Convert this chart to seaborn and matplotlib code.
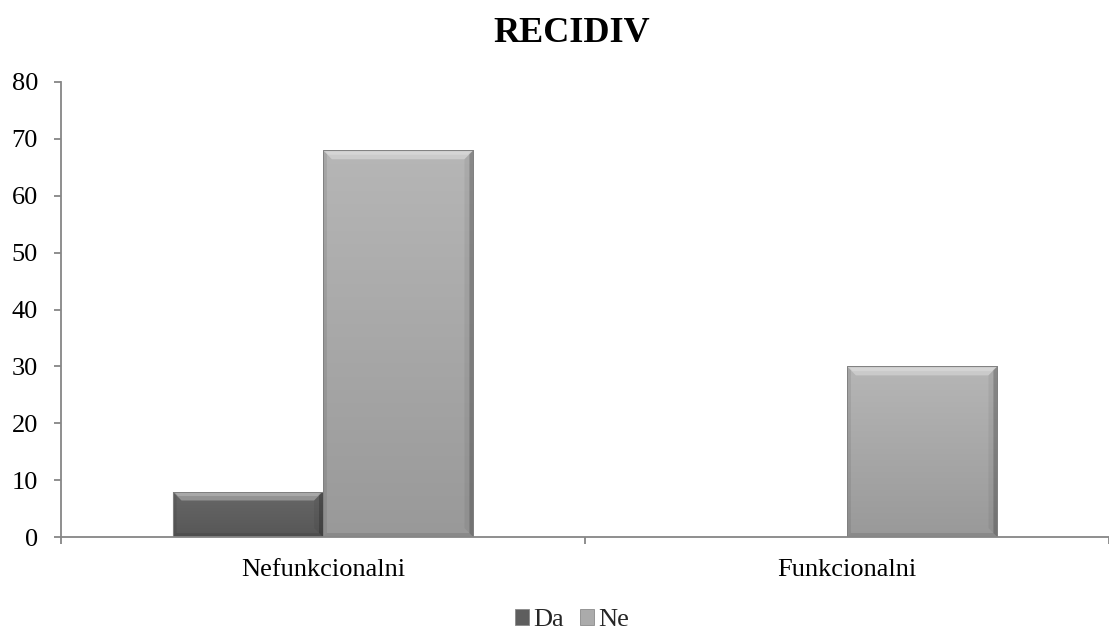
import matplotlib
matplotlib.use("Agg")
import matplotlib.pyplot as plt
import seaborn as sns
import numpy as np
import pandas as pd
from matplotlib.patches import Polygon
from matplotlib.colors import LinearSegmentedColormap

# ---- data ----
categories = ["Nefunkcionalni", "Funkcionalni"]
series_names = ["Da", "Ne"]
da_values = [8, 0]
ne_values = [68, 30]
title = "RECIDIV"
y_ticks = [0, 10, 20, 30, 40, 50, 60, 70, 80]

df = pd.DataFrame({
    "cat": categories * 2,
    "series": [series_names[0]] * 2 + [series_names[1]] * 2,
    "value": da_values + ne_values,
})

sns.set_theme(style="white")
plt.rcParams["font.family"] = ["Liberation Serif", "DejaVu Serif"]

W, H = 1109, 633
fig = plt.figure(figsize=(W / 100, H / 100), dpi=100)
ax = fig.add_axes([61 / W, (H - 537) / H, (W - 61) / W, (537 - 82) / H])

palette = {"Da": "#5e5e5e", "Ne": "#ababab"}
sns.barplot(data=df, x="cat", y="value", hue="series", order=categories,
            hue_order=series_names, palette=palette, width=0.574,
            linewidth=0, ax=ax, legend=True, zorder=3)

xlim = (-0.5, 0.5 + (W - 589) / 528)
ylim = (0, 80)

grad_colors = {"Da": ("#676767", "#575757"), "Ne": ("#b6b6b6", "#999999")}
for p in ax.patches:
    h = p.get_height()
    if h <= 0:
        continue
    fc = p.get_facecolor()
    name = "Da" if fc[0] < 0.5 else "Ne"
    top, bot = grad_colors[name]
    cmap = LinearSegmentedColormap.from_list("g", [bot, top])
    x0, y0, w = p.get_x(), p.get_y(), p.get_width()
    x1, y1 = x0 + w, y0 + h
    grad = np.linspace(1, 0, 256).reshape(-1, 1)
    im = ax.imshow(grad, extent=[x0, x1, y0, y1], aspect="auto", cmap=cmap,
                   zorder=3.1, interpolation="bicubic")
    im.set_clip_path(p)
    dx = 9 / 528
    dy = min(9 / 56.9 * 10, h / 2)
    dxr = 4 / 528
    dyb = min(4 / 56.9 * 10, h / 4)
    # top bevel (light)
    ax.add_patch(Polygon([(x0, y1), (x1, y1), (x1 - dx, y1 - dy), (x0 + dx, y1 - dy)],
                         closed=True, facecolor="white", alpha=0.3, lw=0, zorder=3.2))
    ax.add_patch(Polygon([(x0 + dx * 0.3, y1 - dy * 0.15), (x1 - dx * 0.3, y1 - dy * 0.15),
                          (x1 - dx * 0.6, y1 - dy * 0.5), (x0 + dx * 0.6, y1 - dy * 0.5)],
                         closed=True, facecolor="white", alpha=0.2, lw=0, zorder=3.2))
    # left bevel (subtle)
    ax.add_patch(Polygon([(x0, y0), (x0, y1), (x0 + dxr, y1 - dyb), (x0 + dxr, y0 + dyb)],
                         closed=True, facecolor="black", alpha=0.08, lw=0, zorder=3.2))
    # right bevel (dark)
    ax.add_patch(Polygon([(x1, y0), (x1, y1), (x1 - dx, y1 - dy), (x1 - dx, y0 + dy)],
                         closed=True, facecolor="black", alpha=0.06, lw=0, zorder=3.2))
    ax.add_patch(Polygon([(x1, y0), (x1, y1), (x1 - dxr, y1 - dyb), (x1 - dxr, y0 + dyb)],
                         closed=True, facecolor="black", alpha=0.2, lw=0, zorder=3.2))
    # bottom bevel
    ax.add_patch(Polygon([(x0, y0), (x1, y0), (x1 - dxr, y0 + dyb), (x0 + dxr, y0 + dyb)],
                         closed=True, facecolor="black", alpha=0.1, lw=0, zorder=3.2))
    # outline
    ax.add_patch(Polygon([(x0, y0), (x0, y1), (x1, y1), (x1, y0)], closed=True,
                         fill=False, edgecolor="#808080", lw=0.7, zorder=3.3))

ax.set_xlim(*xlim)
ax.set_ylim(*ylim)

for s in ["top", "right"]:
    ax.spines[s].set_visible(False)
for s in ["left", "bottom"]:
    ax.spines[s].set_color("#868686")
    ax.spines[s].set_linewidth(1.3)
    ax.spines[s].set_zorder(4)

ax.set_yticks(y_ticks)
ax.set_yticklabels([str(v) for v in y_ticks])
ax.tick_params(axis="y", direction="out", length=5, width=1.3, color="#868686",
               pad=11.5, labelsize=19, labelcolor="black", left=True)
ax.set_xticks(range(len(categories)))
ax.set_xticklabels(categories)
ax.tick_params(axis="x", which="major", length=0, pad=16, labelsize=19,
               labelcolor="black")
ax.set_xticks([-0.5, 0.5, 1.5], minor=True)
ax.tick_params(axis="x", which="minor", direction="out", length=5, width=1.3,
               color="#868686", bottom=True)
ax.set_xlabel("")
ax.set_ylabel("")
ax.grid(False)

handles, labels = ax.get_legend_handles_labels()
if ax.get_legend() is not None:
    ax.get_legend().remove()
for hdl in handles:
    hdl.set_edgecolor("#8a8a8a")
    hdl.set_linewidth(0.6)
fig.legend(handles, labels, loc="center", bbox_to_anchor=(572 / W, 1 - 620 / H),
           ncol=2, frameon=False, fontsize=19, handlelength=0.55, handleheight=0.55,
           handletextpad=0.15, columnspacing=0.6)

fig.text(572 / W, 1 - 34 / H, title, ha="center", va="center",
         fontsize=26, fontweight="bold", color="black")

fig.savefig("out.png", dpi=100)
